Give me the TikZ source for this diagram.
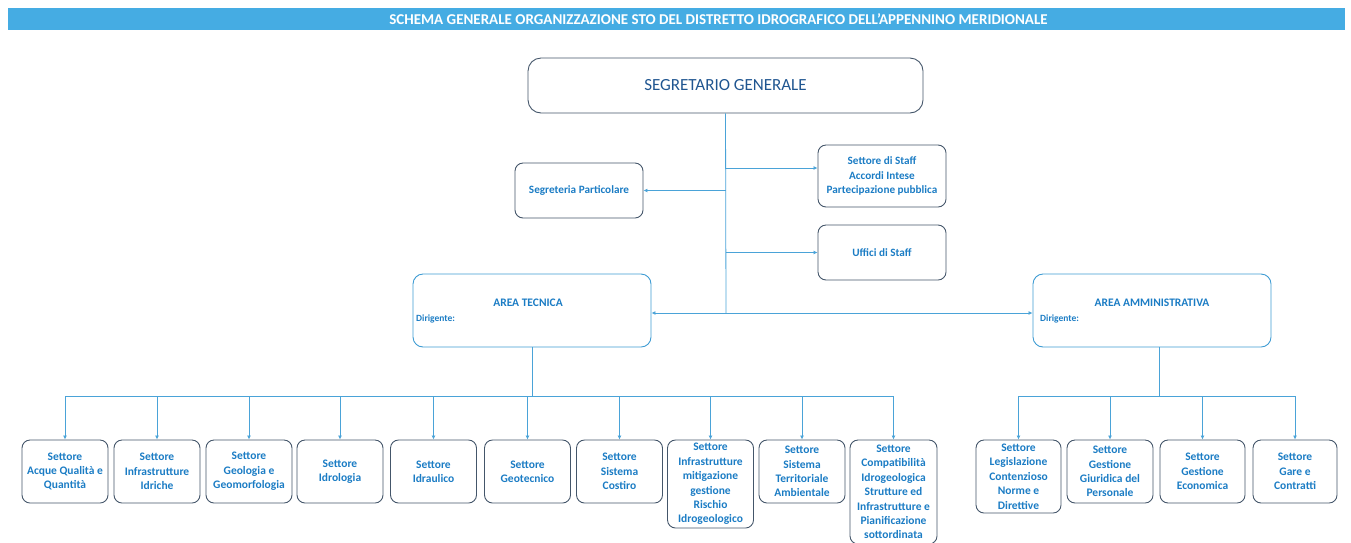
\documentclass[tikz,border=0pt]{standalone}
\usepackage{fontspec}
\setmainfont{Carlito}
\usetikzlibrary{arrows.meta}
\definecolor{barc}{HTML}{45ACE3}
\definecolor{boxc}{HTML}{44566A}
\definecolor{areac}{HTML}{3D9BD3}
\definecolor{linec}{HTML}{4AA3D8}
\definecolor{txtc}{HTML}{1B7CC4}
\definecolor{sgc}{HTML}{1F5590}
\tikzset{
  sbox/.style={draw=boxc, line width=0.9pt, rounded corners=8pt, text=txtc,
    font=\bfseries\fontsize{11.5}{14.4}\selectfont, align=center, inner sep=0pt,
    minimum width=86pt, minimum height=63pt},
  staffbox/.style={draw=boxc, line width=0.9pt, rounded corners=8pt, text=txtc,
    font=\bfseries\fontsize{11.2}{14.8}\selectfont, align=center, inner sep=0pt,
    minimum width=128pt},
  areabox/.style={draw=areac, line width=0.9pt, rounded corners=10pt,
    minimum width=238pt, minimum height=73pt, inner sep=0pt},
  areatxt/.style={text=txtc, font=\bfseries\fontsize{11.5}{13}\selectfont, inner sep=0pt},
  dirtxt/.style={text=txtc, font=\bfseries\fontsize{9.5}{11}\selectfont, inner sep=0pt},
  conn/.style={draw=linec, line width=0.8pt},
  arr/.style={conn, -{Latex[length=4pt,width=4pt]}},
}
\begin{document}
\begin{tikzpicture}[x=1pt,y=-1pt]
\useasboundingbox (0,0) rectangle (1351,542);
% title bar
\node[fill=barc, minimum width=1337pt, minimum height=22pt, inner sep=0pt] (bar) at (676.5,19) {};
\node[text=white, font=\bfseries\fontsize{15}{16}\selectfont, inner sep=0pt] (title) at (718.5,19.5)
  {SCHEMA GENERALE ORGANIZZAZIONE STO DEL DISTRETTO IDROGRAFICO DELL’APPENNINO MERIDIONALE};
% segretario
\node[draw=boxc, line width=0.9pt, rounded corners=13pt, minimum width=395pt, minimum height=55pt,
  text=sgc, font=\fontsize{17}{20}\selectfont, inner sep=0pt] (sg) at (725.5,85.5) {SEGRETARIO GENERALE};
% staff
\node[staffbox, minimum height=55pt] (sp) at (579,190.5) {Segreteria Particolare};
\node[staffbox, minimum height=62pt] (ss) at (882,176) {Settore di Staff\\Accordi Intese\\Partecipazione pubblica};
\node[staffbox, minimum height=55pt] (us) at (882,252.5) {Uffici di Staff};
% areas
\node[areabox] (at) at (532,310.5) {};
\node[areatxt] (attxt) at (528,303) {AREA TECNICA};
\node[dirtxt, anchor=west] (atdir) at (416,319) {Dirigente:};
\node[areabox] (aa) at (1152,310.5) {};
\node[areatxt] (aatxt) at (1152,303) {AREA AMMINISTRATIVA};
\node[dirtxt, anchor=west] (aadir) at (1040,319) {Dirigente:};
% technical sectors
\node[sbox] (t1) at (65,471.5) {Settore\\Acque Qualità e\\Quantità};
\node[sbox] (t2) at (157,471.5) {Settore\\Infrastrutture\\Idriche};
\node[sbox] (t3) at (249,471.5) {Settore\\Geologia e\\Geomorfologia};
\node[sbox] (t4) at (340,471.5) {Settore\\Idrologia};
\node[sbox] (t5) at (433.5,471.5) {Settore\\Idraulico};
\node[sbox] (t6) at (527.5,471.5) {Settore\\Geotecnico};
\node[sbox] (t7) at (619.5,471.5) {Settore\\Sistema\\Costiro};
\node[sbox, minimum height=88pt] (t8) at (710.5,484) {Settore\\Infrastrutture\\mitigazione\\gestione\\Rischio\\Idrogeologico};
\node[sbox] (t9) at (802,471.5) {Settore\\Sistema\\Territoriale\\Ambientale};
\node[sbox, minimum width=87pt, minimum height=104pt] (t10) at (893.5,492) {Settore\\Compatibilità\\Idrogeologica\\Strutture ed\\Infrastrutture e\\Pianificazione\\sottordinata};
% administrative sectors
\node[sbox, minimum width=85pt, minimum height=73pt] (a1) at (1018.5,476.5) {Settore\\Legislazione\\Contenzioso\\Norme e\\Direttive};
\node[sbox] (a2) at (1110,471.5) {Settore\\Gestione\\Giuridica del\\Personale};
\node[sbox, minimum width=85pt] (a3) at (1202.5,471.5) {Settore\\Gestione\\Economica};
\node[sbox, minimum width=84pt] (a4) at (1295,471.5) {Settore\\Gare e\\Contratti};
% connectors
\coordinate (hub) at (726,313);
\coordinate (bt) at (532,396);
\coordinate (ba) at (1159,396);
\draw[conn] (sg.south) -- (hub);
\draw[arr] (sg.south |- sp.east) -- (sp.east);
\draw[arr] (sg.south |- 0,168) -- (ss.west |- 0,168);
\draw[arr] (sg.south |- us.west) -- (us.west);
\draw[conn, {Latex[length=4pt,width=4pt]}-{Latex[length=4pt,width=4pt]}] (at.east |- hub) -- (aa.west |- hub);
\draw[conn] (at.south) -- (bt);
\draw[conn] (t1.north |- bt) -- (t10.north |- bt);
\foreach \n in {t1,t2,t3,t4,t5,t6,t7,t8,t9,t10}{
  \draw[arr] (\n.north |- bt) -- (\n.north);
}
\draw[conn] (aa.south -| ba) -- (ba);
\draw[conn] (a1.north |- ba) -- (a4.north |- ba);
\foreach \n in {a1,a2,a3,a4}{
  \draw[arr] (\n.north |- ba) -- (\n.north);
}
\end{tikzpicture}
\end{document}
